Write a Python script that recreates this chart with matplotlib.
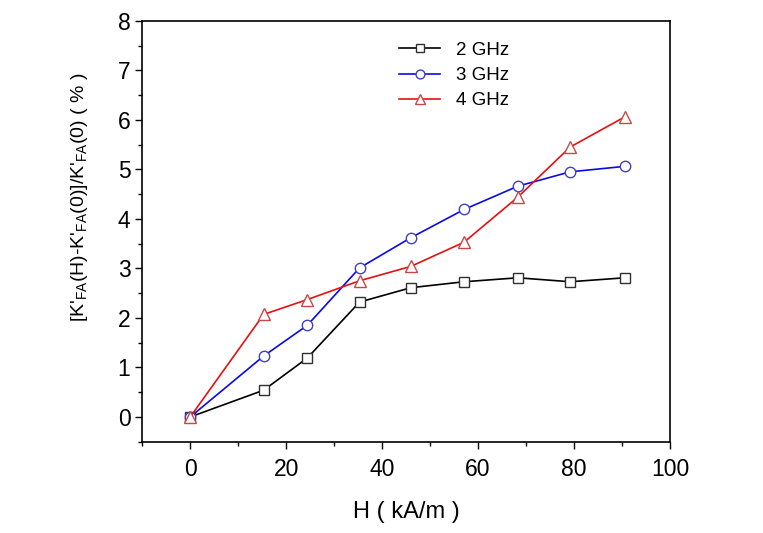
import matplotlib
matplotlib.use("Agg")
import matplotlib.pyplot as plt
from matplotlib.ticker import MultipleLocator

plt.rcParams["font.family"] = ["Liberation Sans", "DejaVu Sans"]

# field H (kA/m)
h = [0, 15.3, 24.4, 35.3, 46.0, 57.1, 68.3, 79.2, 90.6]

# relative change (%) at each frequency
ghz2 = [0, 0.54, 1.19, 2.32, 2.61, 2.73, 2.81, 2.73, 2.81]
ghz3 = [0, 1.23, 1.85, 3.01, 3.62, 4.19, 4.66, 4.95, 5.06]
ghz4 = [0, 2.07, 2.37, 2.75, 3.04, 3.53, 4.44, 5.45, 6.06]

fig = plt.figure(figsize=(7.63, 5.33), dpi=100)
ax = fig.add_axes([0.1865, 0.1713, 0.6915, 0.7897])

ax.plot(h, ghz2, color="black", lw=1.2, marker="s", ms=6.5, mfc="white",
        mec="#303030", mew=1.0, label="2 GHz")
ax.plot(h, ghz3, color="#0a0ae6", lw=1.2, marker="o", ms=7.5, mfc="white",
        mec="#4040c0", mew=1.0, label="3 GHz")
ax.plot(h, ghz4, color="#e61010", lw=1.2, marker="^", ms=8.5, mfc="white",
        mec="#c84848", mew=1.0, label="4 GHz")

ax.set_xlim(-10, 100)
ax.set_ylim(-0.5, 8)
ax.xaxis.set_major_locator(MultipleLocator(20))
ax.xaxis.set_minor_locator(MultipleLocator(10))
ax.yaxis.set_major_locator(MultipleLocator(1))
ax.yaxis.set_minor_locator(MultipleLocator(0.5))
ax.tick_params(which="major", direction="out", length=5, width=1, labelsize=16.5)
ax.tick_params(axis="x", which="major", pad=7)
ax.tick_params(which="minor", direction="out", length=3, width=1)
for s in ax.spines.values():
    s.set_linewidth(1.2)

ax.set_xlabel("H ( kA/m )", fontsize=17, labelpad=14)
ax.set_ylabel("[K'$_{\\mathregular{FA}}$(H)-K'$_{\\mathregular{FA}}$(0)]/K'$_{\\mathregular{FA}}$(0) ( % )",
              fontsize=14)
ax.yaxis.set_label_coords(-0.099, 0.58)

ax.legend(loc="upper left", bbox_to_anchor=(0.455, 0.99), frameon=False,
          fontsize=13.5, numpoints=1, markerscale=0.85, handlelength=2.2,
          handletextpad=0.85, labelspacing=0.43)

fig.savefig("out.png", dpi=100)
